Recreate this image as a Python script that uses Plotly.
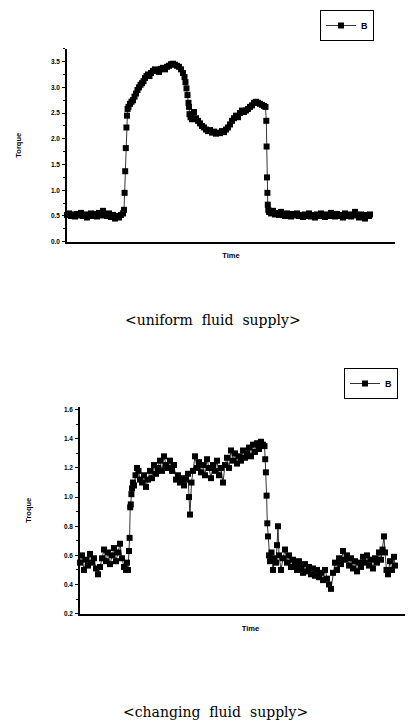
import plotly.graph_objects as go

# ---------------- data: uniform fluid supply ----------------
time_uniform = [
    0, 2, 4, 6, 8, 10, 12, 14, 16, 18, 20, 22, 24, 26, 28, 30, 32, 34, 36, 38,
    40, 42, 44, 46, 48, 50, 52, 54, 56,
    57, 57.6, 58.2, 58.8, 59.4, 60, 60.6, 61.5,
    63, 64.5, 66, 67.5, 69, 70.5, 72, 73.5, 75, 76.5, 78, 79.5, 81, 82.5,
    84, 86, 88, 90, 92, 94, 96, 98, 100, 102, 104, 106, 108, 110, 112, 114,
    116, 117.5, 118.5, 119.5, 120.5, 121.5, 122, 122.5, 123.5, 125, 127, 129,
    131, 133, 135, 137, 139, 141, 143, 145, 147, 149, 151, 153, 155, 157, 159,
    161, 163, 165, 167, 169, 171, 173, 175, 177, 179, 181, 183, 185, 187, 189,
    191, 193, 195, 197, 198.5,
    199.3, 199.6, 200, 200.4, 200.8, 201.3, 202,
    204, 206, 208, 210, 212, 214, 216, 218, 220, 222, 224, 226, 228, 230, 232,
    234, 236, 238, 240, 242, 244, 246, 248, 250, 252, 254, 256, 258, 260, 262,
    264, 266, 268, 270, 272, 274, 276, 278, 280, 282, 284, 286, 288, 290, 292,
    294, 296, 298, 300, 302, 303,
]
torque_uniform = [
    0.52, 0.55, 0.50, 0.53, 0.49, 0.54, 0.51, 0.56, 0.50, 0.53, 0.47, 0.52, 0.55, 0.50, 0.54, 0.49, 0.56, 0.51, 0.60, 0.53,
    0.50, 0.55, 0.48, 0.52, 0.45, 0.50, 0.47, 0.52, 0.55,
    0.62, 0.95, 1.37, 1.82, 2.22, 2.45, 2.58, 2.62,
    2.68, 2.72, 2.75, 2.82, 2.88, 2.95, 3.00, 3.05, 3.08, 3.12, 3.18, 3.22, 3.25, 3.22,
    3.28, 3.32, 3.35, 3.33, 3.30, 3.36, 3.38, 3.35, 3.40, 3.42, 3.45, 3.46, 3.44, 3.42, 3.40, 3.35,
    3.28, 3.20, 3.10, 2.98, 2.85, 2.70, 2.62, 2.48, 2.42, 2.38, 2.52, 2.40,
    2.35, 2.30, 2.25, 2.22, 2.18, 2.15, 2.17, 2.12, 2.14, 2.10, 2.12, 2.11, 2.15, 2.13, 2.18,
    2.22, 2.28, 2.35, 2.40, 2.45, 2.42, 2.50, 2.55, 2.52, 2.55, 2.58, 2.62, 2.65, 2.70, 2.72,
    2.70, 2.68, 2.66, 2.64, 2.62,
    2.35, 1.85, 1.25, 0.95, 0.72, 0.62, 0.58,
    0.55, 0.60, 0.53, 0.56, 0.52, 0.58, 0.54, 0.50, 0.55, 0.52, 0.49, 0.54, 0.51, 0.55, 0.50,
    0.52, 0.48, 0.53, 0.50, 0.55, 0.49, 0.52, 0.47, 0.53, 0.50, 0.55, 0.51, 0.48, 0.53, 0.50,
    0.56, 0.52, 0.49, 0.54, 0.50, 0.52, 0.47, 0.55, 0.50, 0.53, 0.49, 0.52, 0.58, 0.51, 0.47,
    0.53, 0.50, 0.45, 0.52, 0.50, 0.53,
]

# ---------------- data: changing fluid supply ----------------
time_changing = [
    0, 2, 4, 6, 8, 10, 12, 14, 16, 18, 20, 22, 24, 26, 28, 30, 32, 34, 36, 38,
    40, 42, 44, 46, 47, 48,
    49, 49.6, 50.2, 50.8, 51.4, 52, 53, 54, 55.5, 57, 58.5, 60, 62, 64, 66, 68,
    70, 72, 74, 76, 78, 80, 82, 84, 86, 88, 90, 92, 94, 96, 98, 100, 102, 104,
    106, 108, 109, 110, 111.5, 113, 115, 117, 119, 121, 123, 125, 127, 129, 131,
    133, 135, 137, 139, 141, 143, 145, 147, 149, 151, 153, 155, 157, 159, 161,
    163, 165, 167, 169, 171, 173, 175, 177, 179, 181, 183, 184.5,
    185.2, 185.9, 186.6, 187.3, 188, 189, 190, 191.5, 193, 194.5, 196, 197, 198,
    199, 201, 203, 205, 207, 209, 211, 213, 215, 217, 219, 221, 223, 225, 227,
    229, 231, 233, 235, 237, 239, 241, 243, 245, 247, 249, 251, 253, 255, 257,
    259, 261, 263, 265, 267, 269, 271, 273, 275, 277, 279, 281, 283, 285, 287,
    289, 291, 293, 295, 297, 299, 301, 302.5, 304, 305, 306.5, 308, 310, 312,
    314, 315,
]
torque_changing = [
    0.55, 0.60, 0.50, 0.57, 0.53, 0.61, 0.55, 0.58, 0.51, 0.47, 0.52, 0.58, 0.64, 0.56, 0.62, 0.54, 0.60, 0.65, 0.56, 0.62,
    0.68, 0.58, 0.52, 0.50, 0.55, 0.50,
    0.63, 0.72, 0.93, 0.95, 1.02, 1.06, 1.10, 1.08, 1.15, 1.20, 1.18, 1.12, 1.10, 1.15, 1.07, 1.12,
    1.18, 1.13, 1.22, 1.16, 1.20, 1.25, 1.18, 1.28, 1.22, 1.20, 1.25, 1.18, 1.22, 1.12, 1.15, 1.10, 1.13, 1.08,
    1.12, 1.16, 1.00, 0.88, 1.10, 1.18, 1.28, 1.20, 1.24, 1.17, 1.22, 1.15, 1.26, 1.20, 1.13,
    1.22, 1.18, 1.25, 1.15, 1.20, 1.10, 1.22, 1.27, 1.20, 1.32, 1.25, 1.30, 1.23, 1.28, 1.25,
    1.32, 1.27, 1.30, 1.34, 1.28, 1.36, 1.31, 1.37, 1.33, 1.38, 1.36, 1.35,
    1.26, 1.17, 1.01, 0.82, 0.73, 0.60, 0.56, 0.62, 0.50, 0.58, 0.55, 0.67, 0.80,
    0.60, 0.50, 0.58, 0.64, 0.55, 0.60, 0.52, 0.57, 0.54, 0.50, 0.56, 0.52, 0.48, 0.54, 0.49,
    0.52, 0.47, 0.51, 0.46, 0.50, 0.45, 0.48, 0.43, 0.50, 0.44, 0.40, 0.37, 0.48, 0.55, 0.50,
    0.58, 0.54, 0.63, 0.57, 0.60, 0.53, 0.58, 0.51, 0.56, 0.49, 0.55, 0.52, 0.59, 0.55, 0.60,
    0.53, 0.57, 0.51, 0.58, 0.55, 0.62, 0.57, 0.64, 0.73, 0.62, 0.50, 0.47, 0.56, 0.50,
    0.59, 0.53,
]

series_name = "B"
top_ticks = [0.0, 0.5, 1.0, 1.5, 2.0, 2.5, 3.0, 3.5]
bottom_ticks = [0.2, 0.4, 0.6, 0.8, 1.0, 1.2, 1.4, 1.6]

W, H = 413, 722
def px(x):
    return x / W
def py(y):
    return 1 - y / H

tick_font = dict(family="Liberation Sans", size=6.5, color="black", weight="bold")
title_font = dict(family="Liberation Sans", size=7.5, color="black", weight="bold")
marker = dict(symbol="square", size=6, color="black")
line = dict(color="black", width=0.8)
legend_font = dict(family="Liberation Sans", size=9, color="black", weight="bold")

fig = go.Figure()
fig.add_trace(go.Scatter(x=time_uniform, y=torque_uniform, mode="lines+markers",
                         name=series_name, marker=marker, line=line, showlegend=True,
                         xaxis="x", yaxis="y", legend="legend", cliponaxis=False))
fig.add_trace(go.Scatter(x=time_changing, y=torque_changing, mode="lines+markers",
                         name=series_name, marker=marker, line=line, showlegend=True,
                         xaxis="x2", yaxis="y2", legend="legend2", cliponaxis=False))

common_y = dict(showgrid=False, zeroline=False, showline=True, linecolor="black",
                linewidth=1.5, ticks="outside", ticklen=3, tickwidth=1, tickcolor="black",
                tickfont=tick_font, ticklabelstandoff=1)
common_x = dict(showgrid=False, zeroline=False, showline=True, linecolor="black",
                linewidth=1.5, showticklabels=False, ticks="")

fig.update_layout(
    width=W, height=H, margin=dict(l=0, r=0, t=0, b=0),
    paper_bgcolor="white", plot_bgcolor="white", showlegend=True,
    xaxis=dict(domain=[px(59), px(387)], anchor="y", range=[0, 328],
               title=dict(text="Time", font=title_font, standoff=10), **common_x),
    yaxis=dict(domain=[py(234), py(40)], anchor="x", range=[0, 3.75],
               tickvals=top_ticks, ticktext=[f"{v:.1f}" for v in top_ticks],
               minor=dict(dtick=0.25, tick0=0, ticks="outside", ticklen=2, tickcolor="black"),
               title=dict(text="Torque", font=title_font, standoff=28), **common_y),
    xaxis2=dict(domain=[px(72), px(413)], anchor="y2", range=[0, 341],
                title=dict(text="Time", font=title_font, standoff=11), **common_x),
    yaxis2=dict(domain=[py(608), py(400)], anchor="x2", range=[0.2, 1.62],
                tickvals=bottom_ticks, ticktext=[f"{v:.1f}" for v in bottom_ticks],
                minor=dict(dtick=0.1, tick0=0.2, ticks="outside", ticklen=2, tickcolor="black"),
                title=dict(text="Troque", font=title_font, standoff=31), **common_y),
    legend=dict(x=px(312), y=py(1), xanchor="left", yanchor="top",
                bordercolor="black", borderwidth=1, bgcolor="white",
                font=legend_font, itemwidth=30, tracegroupgap=0),
    legend2=dict(x=px(336), y=py(361), xanchor="left", yanchor="top",
                 bordercolor="black", borderwidth=1, bgcolor="white",
                 font=legend_font, itemwidth=30, tracegroupgap=0),
    annotations=[
        dict(text="&lt;uniform  fluid  supply&gt;", x=px(205), y=py(313), xref="paper", yref="paper",
             showarrow=False, xanchor="center", yanchor="middle",
             font=dict(family="DejaVu Serif", size=14, color="black")),
        dict(text="&lt;changing  fluid  supply&gt;", x=px(207), y=py(707), xref="paper", yref="paper",
             showarrow=False, xanchor="center", yanchor="middle",
             font=dict(family="DejaVu Serif", size=14, color="black")),
    ],
)

fig.write_html("out.html")
